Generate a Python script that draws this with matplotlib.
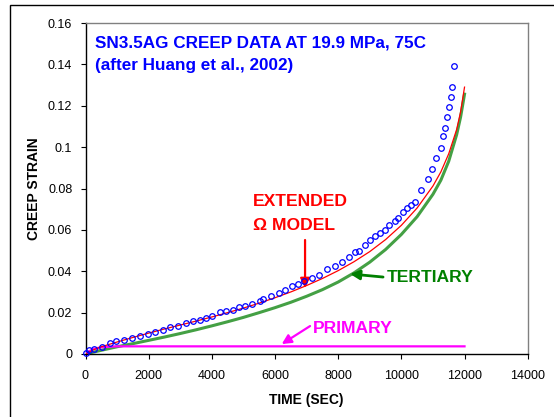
import numpy as np
import matplotlib
matplotlib.use("Agg")
import matplotlib.pyplot as plt
from matplotlib.patches import Rectangle

plt.rcParams['font.family'] = ['Liberation Sans', 'DejaVu Sans']

# measured creep data (Huang et al., 2002)
data_time = [0, 106, 265, 530, 765, 975, 1220, 1467, 1722, 1965, 2210, 2444,
             2678, 2922, 3167, 3401, 3614, 3805, 4018, 4251, 4443, 4656, 4868,
             5048, 5261, 5526, 5612, 5868, 6111, 6324, 6537, 6717, 6930, 7175,
             7388, 7654, 7887, 8131, 8344, 8525, 8663, 8844, 9013, 9162, 9332,
             9481, 9619, 9800, 9906, 10046, 10183, 10311, 10417, 10630, 10843,
             10970, 11107, 11245, 11321, 11395, 11458, 11513, 11564, 11618, 11672]
data_strain = [0.0005, 0.0017, 0.0025, 0.0033, 0.0051, 0.0062, 0.0070, 0.0078,
               0.0086, 0.0098, 0.0105, 0.0114, 0.0129, 0.0137, 0.0150, 0.0158,
               0.0166, 0.0175, 0.0186, 0.0202, 0.0207, 0.0214, 0.0225, 0.0234,
               0.0243, 0.0255, 0.0266, 0.0282, 0.0295, 0.0310, 0.0327, 0.0338,
               0.0351, 0.0367, 0.0384, 0.0411, 0.0424, 0.0445, 0.0468, 0.0491,
               0.0499, 0.0528, 0.0549, 0.0572, 0.0585, 0.0601, 0.0624, 0.0645,
               0.0657, 0.0684, 0.0706, 0.0722, 0.0737, 0.0791, 0.0846, 0.0893,
               0.0947, 0.0996, 0.1054, 0.1092, 0.1148, 0.1193, 0.1242, 0.1290,
               0.1392]

# model curves
model_time = [0, 250, 500, 1000, 1500, 2000, 2500, 3000, 3500, 4000, 4500, 5000,
              5500, 6000, 6500, 7000, 7500, 8000, 8500, 9000, 9500, 10000,
              10500, 11000, 11250, 11500, 11750, 11875, 12000]
extended_strain = [0, 0.0020, 0.0035, 0.0058, 0.0080, 0.0101, 0.0121, 0.0140,
                   0.0159, 0.0179, 0.0200, 0.0222, 0.0246, 0.0272, 0.0300,
                   0.0331, 0.0365, 0.0403, 0.0446, 0.0495, 0.0553, 0.0622,
                   0.0706, 0.0812, 0.0880, 0.0968, 0.1085, 0.1170, 0.1290]
tertiary_strain = [0, 0.0009, 0.0018, 0.0035, 0.0050, 0.0066, 0.0082, 0.0099,
                   0.0117, 0.0136, 0.0156, 0.0177, 0.0200, 0.0224, 0.0250,
                   0.0279, 0.0311, 0.0348, 0.0392, 0.0444, 0.0505, 0.0578,
                   0.0664, 0.0772, 0.0840, 0.0932, 0.1060, 0.1145, 0.1256]
primary_time = [0, 100, 250, 500, 1000, 12000]
primary_strain = [0, 0.0012, 0.0024, 0.0033, 0.0037, 0.0037]

x_ticks = [0, 2000, 4000, 6000, 8000, 10000, 12000, 14000]
y_ticks = [0, 0.02, 0.04, 0.06, 0.08, 0.1, 0.12, 0.14, 0.16]
y_labels = ['0', '0.02', '0.04', '0.06', '0.08', '0.1', '0.12', '0.14', '0.16']

fig = plt.figure(figsize=(5.54, 4.17), dpi=100)
ax = fig.add_axes([85.5 / 554, 63 / 417, 442.2 / 554, 331 / 417])

ax.plot(model_time, tertiary_strain, color='#44A044', lw=2.2, zorder=2)
ax.plot(primary_time, primary_strain, color='#FF00FF', lw=1.6, zorder=3)
ax.plot(model_time, extended_strain, color='#FF0000', lw=0.9, zorder=4)
ax.plot(data_time, data_strain, 'o', ms=4, mfc='none', mec='#0000FF', mew=0.9,
        zorder=5, clip_on=False)

ax.set_xlim(0, 14000)
ax.set_ylim(0, 0.16)
ax.set_xticks(x_ticks)
ax.set_xticklabels([str(v) for v in x_ticks])
ax.set_yticks(y_ticks)
ax.set_yticklabels(y_labels)
ax.tick_params(direction='out', length=3.5, width=0.8, labelsize=9, colors='black')
ax.tick_params(axis='x', pad=8)
ax.tick_params(axis='y', pad=6)

for side in ['top', 'right']:
    ax.spines[side].set_color('#808080')
    ax.spines[side].set_linewidth(1)
for side in ['left', 'bottom']:
    ax.spines[side].set_color('black')
    ax.spines[side].set_linewidth(1)

ax.set_xlabel('TIME (SEC)', fontsize=10, fontweight='bold', labelpad=8)
ax.set_ylabel('CREEP STRAIN', fontsize=10, fontweight='bold', labelpad=5)

ax.text(301, 0.1540, 'SN3.5AG CREEP DATA AT 19.9 MPa, 75C\n(after Huang et al., 2002)',
        color='#0000FF', fontsize=12.3, fontweight='bold', ha='left', va='top',
        linespacing=1.6)

ax.text(5294, 0.0775, 'EXTENDED\n\u03a9 MODEL', color='#FF0000', fontsize=12.6,
        fontweight='bold', ha='left', va='top', linespacing=1.8)
ax.annotate('', xy=(6951, 0.0319), xytext=(6951, 0.0551),
            arrowprops=dict(arrowstyle='-|>', color='#FF0000', lw=1.6,
                            mutation_scale=14, shrinkA=0, shrinkB=0))

ax.text(9538, 0.0349, 'TERTIARY', color='#008000', fontsize=12.6,
        fontweight='bold', ha='left', va='baseline')
ax.annotate('', xy=(8375, 0.0387), xytext=(9421, 0.0372),
            arrowprops=dict(arrowstyle='-|>', color='#008000', lw=2,
                            mutation_scale=14, shrinkA=0, shrinkB=0))

ax.text(7204, 0.0103, 'PRIMARY', color='#FF00FF', fontsize=12.6,
        fontweight='bold', ha='left', va='baseline')
ax.annotate('', xy=(6213, 0.0048), xytext=(7109, 0.0135),
            arrowprops=dict(arrowstyle='-|>', color='#FF00FF', lw=1.6,
                            mutation_scale=14, shrinkA=0, shrinkB=0))

# outer chart border (runs off the right and bottom of the image)
fig.patches.append(Rectangle((10 / 554, -0.2), 1.5, 1.2 - 5 / 417, fill=False,
                             edgecolor='black', lw=1, transform=fig.transFigure))

fig.savefig('out.png', dpi=100)
